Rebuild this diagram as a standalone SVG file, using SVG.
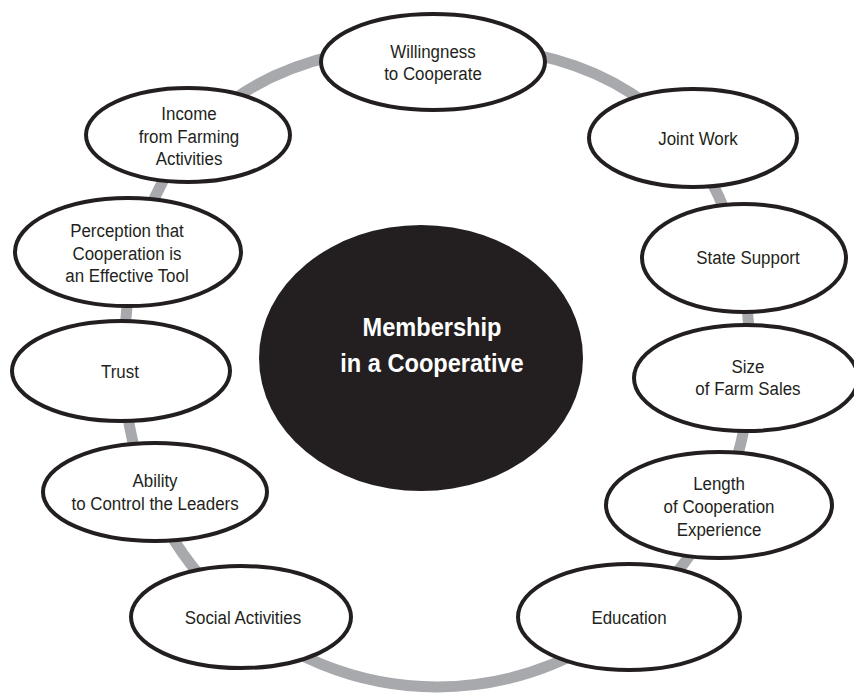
<svg xmlns="http://www.w3.org/2000/svg" width="854" height="693" viewBox="0 0 854 693">
  <style>
    .ring { fill: none; stroke: #a7a9ac; stroke-width: 11; }
    .node { fill: #ffffff; stroke: #231f20; stroke-width: 4; }
    .lbl { font-family: "Liberation Sans", Arial, sans-serif; font-size: 19px; fill: #231f20; text-anchor: middle; }
    .core { fill: #231f20; }
    .corelbl { font-family: "Liberation Sans", Arial, sans-serif; font-size: 26.5px; font-weight: bold; fill: #ffffff; text-anchor: middle; }
  </style>
  <rect width="854" height="693" fill="#ffffff"/>
  <g id="connectors">
    <path class="ring" d="M 750 366 C 750 135 625 45 437 45 C 249 45 124 135 124 366 A 313 321 0 0 0 750 366 Z"/>
  </g>
  <g id="center">
    <ellipse class="core" cx="421" cy="358" rx="162" ry="133"/>
    <g transform="scale(0.89 1)">
      <text class="corelbl" x="485.4" y="336">Membership</text>
      <text class="corelbl" x="485.4" y="372">in a Cooperative</text>
    </g>
  </g>
  <g id="willingness">
    <ellipse class="node" cx="433" cy="62" rx="112" ry="48"/>
    <g transform="scale(0.89 1)">
      <text class="lbl" x="486.5" y="58">Willingness</text>
      <text class="lbl" x="486.5" y="80">to Cooperate</text>
    </g>
  </g>
  <g id="joint-work">
    <ellipse class="node" cx="693" cy="138" rx="104" ry="49"/>
    <g transform="scale(0.89 1)">
      <text class="lbl" x="784.3" y="145">Joint Work</text>
    </g>
  </g>
  <g id="state-support">
    <ellipse class="node" cx="744" cy="258" rx="102" ry="54"/>
    <g transform="scale(0.89 1)">
      <text class="lbl" x="840.4" y="264">State Support</text>
    </g>
  </g>
  <g id="farm-sales">
    <ellipse class="node" cx="746" cy="378" rx="112" ry="53"/>
    <g transform="scale(0.89 1)">
      <text class="lbl" x="840.4" y="373">Size</text>
      <text class="lbl" x="840.4" y="395">of Farm Sales</text>
    </g>
  </g>
  <g id="length">
    <ellipse class="node" cx="719" cy="505" rx="113" ry="53"/>
    <g transform="scale(0.89 1)">
      <text class="lbl" x="807.9" y="490">Length</text>
      <text class="lbl" x="807.9" y="513">of Cooperation</text>
      <text class="lbl" x="807.9" y="536">Experience</text>
    </g>
  </g>
  <g id="education">
    <ellipse class="node" cx="629" cy="617" rx="111" ry="53"/>
    <g transform="scale(0.89 1)">
      <text class="lbl" x="706.7" y="624">Education</text>
    </g>
  </g>
  <g id="social">
    <ellipse class="node" cx="241" cy="617" rx="110" ry="51"/>
    <g transform="scale(0.89 1)">
      <text class="lbl" x="273" y="624">Social Activities</text>
    </g>
  </g>
  <g id="ability">
    <ellipse class="node" cx="155" cy="492" rx="112" ry="49"/>
    <g transform="scale(0.89 1)">
      <text class="lbl" x="174.2" y="487">Ability</text>
      <text class="lbl" x="174.2" y="510">to Control the Leaders</text>
    </g>
  </g>
  <g id="trust">
    <ellipse class="node" cx="121" cy="371" rx="109" ry="50"/>
    <g transform="scale(0.89 1)">
      <text class="lbl" x="134.8" y="378">Trust</text>
    </g>
  </g>
  <g id="perception">
    <ellipse class="node" cx="128" cy="252" rx="113" ry="54"/>
    <g transform="scale(0.89 1)">
      <text class="lbl" x="142.7" y="237">Perception that</text>
      <text class="lbl" x="142.7" y="260">Cooperation is</text>
      <text class="lbl" x="142.7" y="282">an Effective Tool</text>
    </g>
  </g>
  <g id="income">
    <ellipse class="node" cx="188" cy="135" rx="102" ry="47"/>
    <g transform="scale(0.89 1)">
      <text class="lbl" x="212.4" y="120">Income</text>
      <text class="lbl" x="212.4" y="143">from Farming</text>
      <text class="lbl" x="212.4" y="165">Activities</text>
    </g>
  </g>
</svg>
